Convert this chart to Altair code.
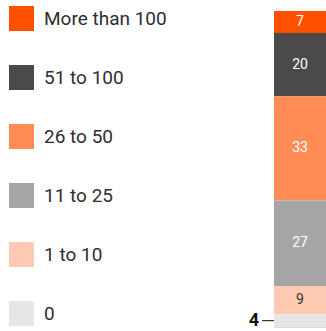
import altair as alt
import pandas as pd

categories = ["More than 100", "51 to 100", "26 to 50", "11 to 25", "1 to 10", "0"]
values = [7, 20, 33, 27, 9, 4]
colors = ["#FF5000", "#4A4A4A", "#FF8C55", "#A6A6A6", "#FFC9B2", "#E6E6E6"]

df = pd.DataFrame({
    "category": categories,
    "value": values,
    "order": list(range(len(categories), 0, -1)),
    "grp": ["all"] * len(categories),
})

FONT = "Roboto"

base = alt.Chart(df).transform_stack(
    stack="value", as_=["y0", "y1"], groupby=["grp"], sort=[alt.SortField("order")]
).transform_calculate(mid="(datum.y0 + datum.y1) / 2")

yscale = alt.Scale(domain=[0, 100], nice=False, zero=True)
xenc = alt.X("grp:N", axis=None, scale=alt.Scale(paddingInner=0, paddingOuter=0))

bars = base.mark_bar().encode(
    x=xenc,
    y=alt.Y("y0:Q", scale=yscale, axis=None),
    y2="y1:Q",
    color=alt.Color(
        "category:N",
        scale=alt.Scale(domain=categories, range=colors),
        legend=alt.Legend(
            title=None,
            orient="none",
            legendX=-265,
            legendY=-5,
            symbolType="square",
            symbolSize=625,
            symbolStrokeWidth=0,
            symbolOpacity=1,
            labelFontSize=19,
            labelFont=FONT,
            labelFontWeight="normal",
            labelColor="#2E2E2E",
            labelOffset=10,
            labelLimit=300,
            rowPadding=34,
            padding=0,
        ),
    ),
)

inside = base.transform_filter("datum.value >= 5").mark_text(
    font=FONT, fontSize=14
).encode(
    x=xenc,
    y=alt.Y("mid:Q", scale=yscale),
    text="value:Q",
    color=alt.condition("datum.category == '1 to 10'", alt.value("#333333"), alt.value("#FFFFFF")),
)

outside_text = base.transform_filter("datum.value < 5").mark_text(
    font=FONT, fontSize=18, fontWeight="bold", align="right", color="#111111"
).encode(
    x=alt.value(-15),
    y=alt.Y("mid:Q", scale=yscale),
    text="value:Q",
)

outside_rule = base.transform_filter("datum.value < 5").mark_rule(
    color="#111111", strokeWidth=1
).encode(
    x=alt.value(-12),
    x2=alt.value(0),
    y=alt.Y("mid:Q", scale=yscale),
)

chart = alt.layer(bars, inside, outside_text, outside_rule).properties(
    width=52,
    height=316,
    padding={"left": 274, "top": 11, "right": 0, "bottom": 4},
    autosize=alt.AutoSizeParams(type="none"),
).configure_view(stroke=None).configure(background="white")

chart.save("out.html", embed_options={"renderer": "svg", "actions": False})
